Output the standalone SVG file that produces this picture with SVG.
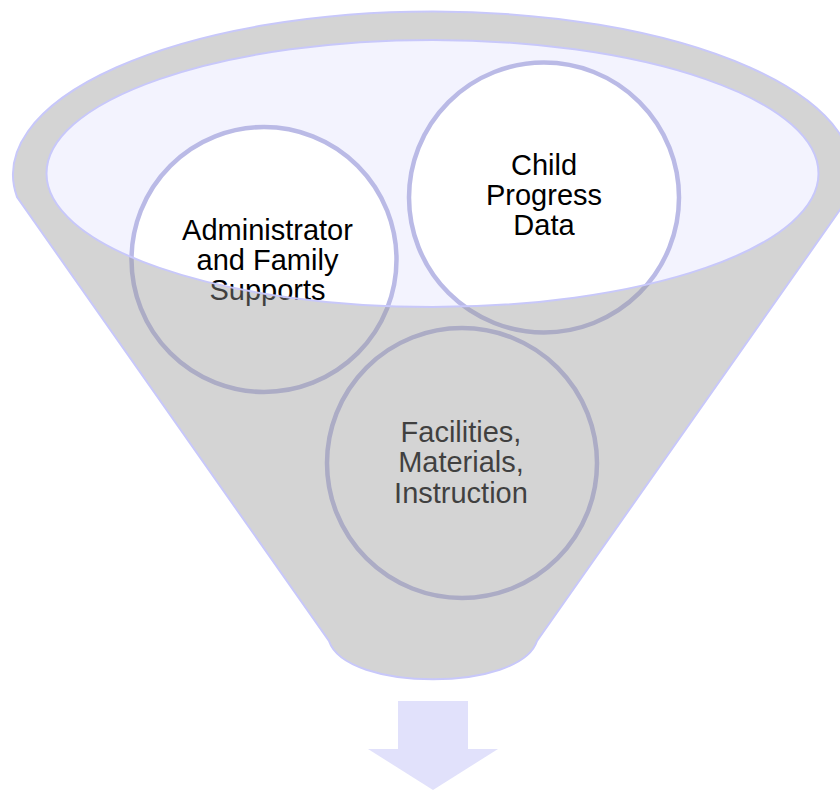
<svg xmlns="http://www.w3.org/2000/svg" width="840" height="790" viewBox="0 0 840 790">
<style>
.node circle{fill:#ffffff;stroke:#babae6;stroke-width:4.5}
.node text{font-family:"Liberation Sans",Arial,sans-serif;font-size:29px;fill:#000000;text-anchor:middle}
</style>
<rect width="840" height="790" fill="#ffffff"/>
<g id="funnel-back">
<ellipse cx="432.5" cy="173.5" rx="386" ry="133.5" fill="#f3f3fe"/>
</g>
<g id="node-admin" class="node">
<circle cx="264" cy="259.5" r="132.5"/>
<text x="267.5" y="240">Administrator</text>
<text x="267.5" y="270">and Family</text>
<text x="267.5" y="300">Supports</text>
</g>
<g id="node-child" class="node">
<circle cx="544" cy="197.5" r="135"/>
<text x="544" y="175">Child</text>
<text x="544" y="205">Progress</text>
<text x="544" y="235">Data</text>
</g>
<g id="node-facilities" class="node">
<circle cx="462" cy="463" r="135"/>
<text x="461" y="442">Facilities,</text>
<text x="461" y="472">Materials,</text>
<text x="461" y="503">Instruction</text>
</g>
<g id="funnel-front">
<path d="M17,197 A420,163 0 1 1 849,197 L537,641 C520,692 346,692 329,641 Z M46.5,173.5 A386,133.5 0 1 0 818.5,173.5 A386,133.5 0 1 0 46.5,173.5 Z" fill="#999999" fill-opacity="0.42" fill-rule="evenodd" stroke="#c8c8fa" stroke-width="2"/>
</g>
<g id="connectors">
<polygon points="398,701 468,701 468,749 498,749 433,790 368,749 398,749" fill="#e1e1fb"/>
</g>
</svg>
